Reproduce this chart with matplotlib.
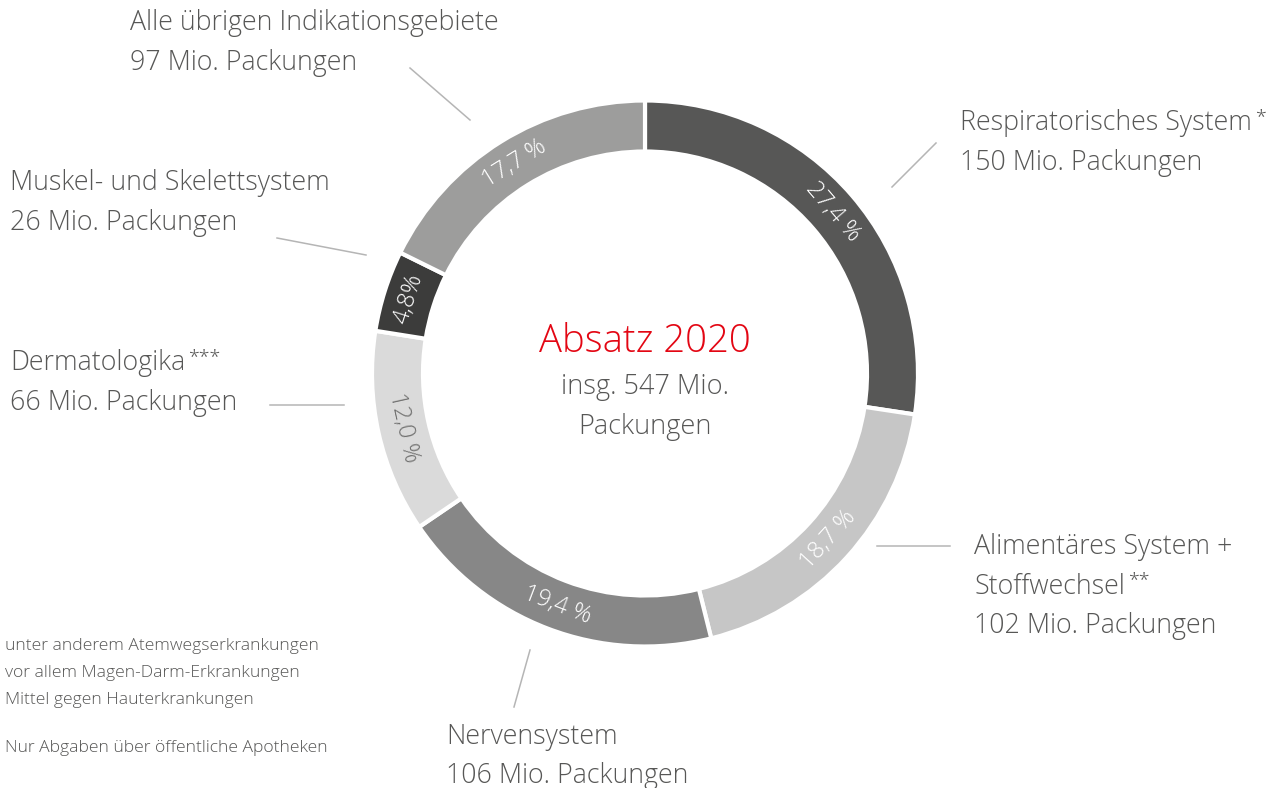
import numpy as np
import matplotlib.pyplot as plt

# data, clockwise from the top
shares = [27.4, 18.7, 19.4, 12.0, 4.8, 17.7]
share_labels = ["27,4 %", "18,7 %", "19,4 %", "12,0 %", "4,8%", "17,7 %"]
seg_colors = ["#575756", "#c6c6c6", "#878787", "#dadada", "#3c3c3b", "#9d9d9c"]
pct_colors = ["white", "white", "white", "#6f6f6e", "white", "white"]

names = [["Respiratorisches System", "150 Mio. Packungen"],
         ["Alimentäres System +", "Stoffwechsel", "102 Mio. Packungen"],
         ["Nervensystem", "106 Mio. Packungen"],
         ["Dermatologika", "66 Mio. Packungen"],
         ["Muskel- und Skelettsystem", "26 Mio. Packungen"],
         ["Alle übrigen Indikationsgebiete", "97 Mio. Packungen"]]
stars = [("*", 0), ("**", 1), None, ("***", 0), None, None]

footnotes = ["unter anderem Atemwegserkrankungen",
             "vor allem Magen-Darm-Erkrankungen",
             "Mittel gegen Hauterkrankungen"]
source_note = "Nur Abgaben über öffentliche Apotheken"

W, H = 1287, 788
fig = plt.figure(figsize=(W / 100, H / 100), dpi=100)
ax = fig.add_axes([0, 0, 1, 1])

FONT = ["Open Sans", "DejaVu Sans"]
WT = "light"
GREY = "#575756"
LINE = "#b5b5b5"

def Y(y):
    return H - y

cx, cy = 645, 373.5
r_out, ring = 273, 51

ax.pie(shares, colors=seg_colors, startangle=90, counterclock=False,
       center=(cx, Y(cy)), radius=r_out,
       wedgeprops=dict(width=ring, edgecolor="white", linewidth=3))
ax.set_xlim(0, W)
ax.set_ylim(0, H)
ax.set_aspect("equal")
ax.set_axis_off()

cum = 0
r_mid = r_out - ring / 2
for val, lab, col in zip(shares, share_labels, pct_colors):
    theta = (cum + val / 2) / 100 * 360  # clockwise from top
    cum += val
    rad = np.deg2rad(theta)
    x = cx + r_mid * np.sin(rad)
    y = Y(cy) + r_mid * np.cos(rad)
    rot = -theta
    while rot <= -90:
        rot += 180
    while rot > 90:
        rot -= 180
    ax.text(x, y, lab, rotation=rot, rotation_mode="anchor", ha="center",
            va="center", fontsize=17, color=col, family=FONT, weight=WT)

# centre text
ax.text(cx, Y(342), "Absatz 2020", ha="center", va="center", fontsize=27.5,
        color="#e30613", family=FONT, weight=WT)
ax.text(cx, Y(387), "insg. 547 Mio.", ha="center", va="center", fontsize=19.5,
        color=GREY, family=FONT, weight=WT)
ax.text(cx, Y(427), "Packungen", ha="center", va="center", fontsize=19.5,
        color=GREY, family=FONT, weight=WT)

# label blocks: x, y of first line centre
label_pos = [(960, 123), (974, 547), (446, 737), (10, 363), (10, 183), (130, 23)]
leaders = [((892, 187), (936, 143)),
           ((877, 546), (950, 546)),
           ((530, 650), (514, 707)),
           ((270, 405), (344, 405)),
           ((277, 238), (366, 255)),
           ((410, 68), (470, 120))]

fig.canvas.draw()
rend = fig.canvas.get_renderer()
for (lx, ly), lines, st in zip(label_pos, names, stars):
    for i, line in enumerate(lines):
        t = ax.text(lx, Y(ly + i * 39.5), line, ha="left", va="center",
                    fontsize=19.3, color=GREY, family=FONT, weight=WT)
        if st is not None and st[1] == i:
            bb = t.get_window_extent(rend)
            ax.text(bb.x1 + 3, Y(ly + i * 39.5 - 6), st[0], ha="left",
                    va="center", fontsize=14, color=GREY, family=FONT,
                    weight=WT)

for (p0, p1) in leaders:
    ax.plot([p0[0], p1[0]], [Y(p0[1]), Y(p1[1])], color=LINE, lw=1.1)

for i, note in enumerate(footnotes):
    ax.text(5, Y(646 + i * 27), note, ha="left", va="center", fontsize=12.6,
            color=GREY, family=FONT, weight=WT)
ax.text(5, Y(748), source_note, ha="left", va="center", fontsize=12.6,
        color=GREY, family=FONT, weight=WT)

fig.savefig("out.png", dpi=100)
